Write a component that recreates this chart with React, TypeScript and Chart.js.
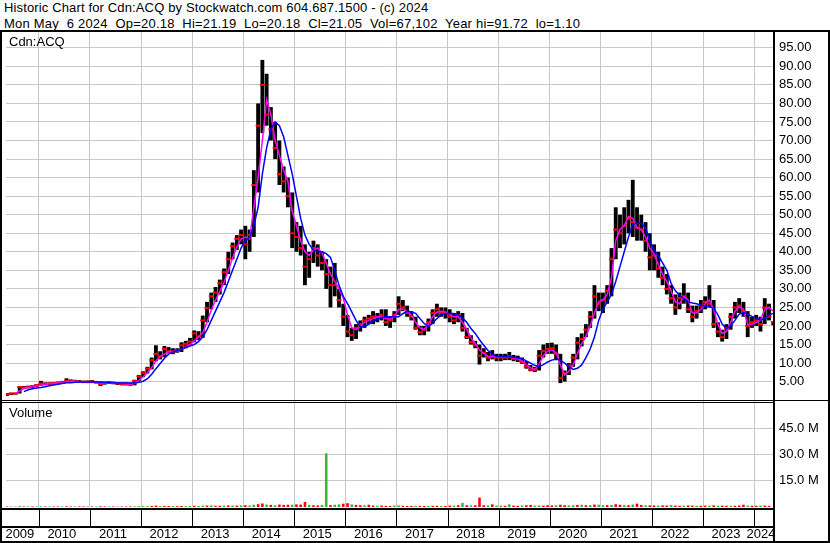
import React, { useEffect, useRef } from "react";
import { Chart, registerables } from "chart.js";

Chart.register(...registerables);

// ---------- data (monthly, May 2009 – May 2024) ----------
const START_YEAR = 2009;
const START_MONTH = 5; // May

const highs = [
  1.9, 2.0, 2.0, 3.8, 3.8, 3.9, 4.0, 4.3,
  5.2, 4.8, 4.8, 4.9, 5.0, 5.2, 5.9, 5.6, 5.5, 5.4, 5.3, 5.3,
  5.4, 5.2, 5.0, 5.0, 5.1, 5.0, 4.9, 4.8, 4.8, 4.7, 5.5, 6.8,
  7.8, 9.0, 11.5, 14.8, 13.2, 14.6, 14.3, 14.0, 14.0, 15.6, 16.0, 16.8,
  18.8, 18.6, 22.8, 26.5, 29.0, 30.5, 32.5, 35.5, 40.0, 42.5, 44.5, 46.0,
  47.0, 46.0, 62.0, 80.0, 91.72, 88.0, 79.0, 75.0, 70.0, 63.0, 60.0, 56.0,
  48, 47, 42, 40, 43, 42, 40, 38, 36, 37, 30, 26,
  23, 19.5, 20.5, 21.5, 22.5, 23, 24, 23.5, 24.5, 24.5, 22.5, 24,
  28, 27, 25.5, 24, 22.5, 20, 20, 22, 24.5, 26, 25, 25,
  24.5, 23.5, 24, 23.5, 19.5, 17.5, 16, 15, 14, 13, 13.5, 12.5,
  12.5, 12.5, 13, 12.2, 12, 11.5, 10.5, 9.5, 9, 13.5, 15, 15.4,
  15.5, 15, 12.5, 8, 10, 12.5, 17, 18, 20.5, 24, 31, 29,
  29, 31, 41, 52, 50, 52, 54, 59.4, 52, 50, 48, 45,
  42, 40, 36, 34, 31, 28.5, 29, 31.5, 29, 25.5, 25.5, 27,
  28, 31, 27, 21, 19, 20.5, 23.5, 26.5, 27.5, 26.5, 24, 22.5,
  23, 22.5, 27.5, 26, 21.19,
];

const lows = [
  1.1, 1.4, 1.5, 1.8, 3.1, 3.2, 3.3, 3.5,
  3.9, 4.0, 4.1, 4.2, 4.3, 4.5, 4.7, 4.8, 4.8, 4.7, 4.6, 4.6,
  4.6, 4.5, 3.8, 4.2, 4.4, 4.3, 4.1, 4.0, 4.0, 3.9, 4.0, 5.0,
  6.2, 7.2, 8.3, 10.5, 11.0, 11.6, 12.6, 12.4, 12.8, 13.0, 14.0, 14.6,
  15.6, 16.2, 16.8, 21.0, 24.5, 26.5, 28.5, 31.0, 34.0, 38.0, 40.5, 42.0,
  38.0, 40.0, 44.0, 56.0, 72.0, 74.0, 70.0, 65.0, 58.0, 56.0, 52.0, 41.0,
  40, 39, 31, 33, 37, 36, 35, 30, 25, 28, 25, 20,
  17, 16, 16.5, 18.5, 19.5, 20.5, 20.5, 21, 21.5, 20, 19.5, 21,
  23, 24, 22.5, 21.5, 19, 17.5, 17.5, 18.5, 20.5, 22.5, 22.5, 22,
  21, 20.5, 21, 18.5, 16.5, 15, 14, 9.6, 11.5, 10.5, 11, 10.5,
  10.5, 10.8, 10.8, 10.5, 10.3, 9.8, 8.5, 7.8, 7.6, 8, 11.5, 12.5,
  12.5, 11, 4.6, 5, 6.8, 9, 11, 14.5, 17, 19.5, 22, 24,
  23.5, 26, 28, 38, 41, 42, 45, 44, 43, 43, 40, 35,
  35, 33, 31, 28.5, 26, 23, 24.5, 26, 23.5, 21, 22, 23.5,
  24.5, 25, 19.5, 17, 15.8, 16.5, 19, 22, 23.5, 22.5, 17, 19.5,
  20, 18.5, 20.5, 21.5, 20.18,
];

const closes = [
  1.5, 1.8, 1.8, 3.5, 3.4, 3.6, 3.8, 4.1,
  4.5, 4.4, 4.5, 4.6, 4.7, 4.9, 5.2, 5.1, 5.0, 5.0, 4.9, 5.0,
  5.0, 4.8, 4.3, 4.7, 4.8, 4.6, 4.5, 4.4, 4.3, 4.2, 5.2, 6.4,
  7.4, 8.5, 10.8, 12.5, 11.8, 13.8, 13.2, 13.0, 13.4, 14.8, 15.2, 15.8,
  18.0, 17.2, 21.5, 24.8, 28.0, 29.0, 31.5, 34.5, 38.0, 41.5, 43.5, 44.5,
  42.0, 44.5, 58.0, 74.0, 85.0, 77.0, 73.0, 68.0, 61.0, 59.0, 55.0, 45.0,
  44, 41, 36, 38, 41, 39, 37, 34, 31, 31, 27, 22.5,
  18.5, 17.5, 19.5, 20.5, 21.5, 22, 22.5, 22.5, 23, 21, 21.5, 23,
  26, 25, 23.5, 22.5, 19.5, 18.3, 19, 21, 23.5, 24.5, 23.5, 23.5,
  22.5, 21.5, 23, 19.5, 17, 15.7, 14.8, 12, 12.8, 11.5, 12, 11.5,
  11.5, 11.5, 11.8, 11.2, 11, 10.3, 9, 8.2, 8.3, 12, 13.2, 13.8,
  14, 12.5, 6, 7.2, 9.3, 11.5, 15.5, 16.5, 19, 22.5, 28, 26,
  27, 29.5, 38, 46, 45, 47, 49, 48, 46.5, 46, 43, 38.5,
  39, 35.5, 33, 30, 27.5, 25, 27.5, 28, 24.5, 22.5, 24, 25.5,
  26.5, 26, 20.5, 18.5, 17, 19.5, 22.5, 25, 25.5, 24, 20, 21,
  21.5, 20.5, 25, 22.5, 21.05,
];

// short moving average (magenta)
const maShort = [
  null, null, 1.8, 2.5, 3.2, 3.4, 3.6, 3.8,
  4.1, 4.3, 4.4, 4.5, 4.6, 4.7, 4.9, 5.1, 5.1, 5.0, 5.0, 4.9,
  4.9, 4.9, 4.7, 4.6, 4.7, 4.7, 4.6, 4.5, 4.4, 4.3, 4.5, 5.3,
  6.3, 7.4, 8.8, 10.6, 11.8, 12.5, 13.0, 13.2, 13.2, 13.7, 14.4, 15.0,
  16.0, 17.0, 18.2, 21.0, 24.3, 27.0, 29.3, 31.8, 35.0, 38.3, 41.3, 43.5,
  44, 43.5, 52, 60, 70, 81, 77, 70, 66, 62, 59, 51,
  47, 43, 40, 39, 40.5, 41, 39.7, 37, 34, 32, 30, 27.5,
  23, 19.5, 19, 20, 21, 21.5, 22, 22.5, 22.5, 22, 21.8, 22.5,
  24.5, 24.5, 24, 23, 21, 19.5, 19, 20.5, 22.5, 23.8, 24, 23.8,
  23, 22.5, 22.5, 21, 19, 16.8, 15.3, 13.5, 12.6, 11.8, 11.7, 11.7,
  11.6, 11.6, 11.6, 11.4, 11.2, 10.6, 9.6, 8.7, 8.2, 9.8, 12, 13.2,
  13.6, 12.8, 9.5, 6.8, 7.8, 9.5, 12.5, 15.2, 17.2, 20, 23.5, 26.5,
  27, 28.5, 33, 43, 46, 47, 49.5, 49, 46.5, 46, 44, 41,
  39.5, 36.5, 34, 32, 29.5, 26.5, 26, 28, 27, 23.5, 23.5, 24.5,
  26, 27, 24.5, 20.5, 18, 18.5, 21, 24, 25.2, 24.5, 20.5, 20.5,
  21, 21.5, 24.5, 25, 24,
];

// long moving average (blue)
const maLong = [
  null, null, null, null, 2.3, 2.8, 3.1, 3.3,
  3.4, 3.6, 3.9, 4.1, 4.3, 4.5, 4.7, 4.7, 4.8, 4.9, 4.9, 4.9,
  5.0, 4.9, 4.9, 4.8, 4.8, 4.7, 4.6, 4.6, 4.6, 4.6, 4.6, 4.8,
  5.1, 5.8, 7.0, 8.5, 9.9, 11.3, 12.4, 13.0, 13.3, 13.7, 14.2, 14.6,
  15.0, 15.8, 17.0, 19.0, 21.5, 24.0, 26.5, 29.0, 32.0, 35.0, 38.0, 41.0,
  43, 44, 47, 52, 61, 68, 73, 75, 74, 71, 66, 61,
  55, 49, 44.5, 42, 40.5, 40, 40, 39.5, 38.5, 35, 31, 28,
  26, 23.8, 21.5, 19.8, 19.8, 20.5, 21.3, 21.8, 22.2, 22.5, 22.5, 22.5,
  22.5, 23.3, 24, 23.8, 23.4, 22, 20.7, 19.8, 20.8, 22, 23, 23.4,
  23.4, 23.4, 23, 22.2, 21, 19.3, 18, 16.3, 14.8, 13.4, 12.4, 11.8,
  11.7, 11.7, 11.7, 11.6, 11.4, 11.2, 10.6, 10, 9.4, 9, 9.6, 10.3,
  10.8, 11, 10.8, 10, 9, 8.3, 8.6, 9.5, 11.5, 13.8, 17, 21.5,
  24.5, 26.5, 28.5, 32, 36, 40, 44, 47.5, 47.7, 47.7, 46.5, 43,
  40.4, 39, 37, 35, 31.5, 29.5, 28.3, 27.3, 26.5, 26.2, 26, 25.6,
  25.3, 25.2, 24.8, 23, 20.5, 19.3, 20, 21.5, 23.2, 23.6, 23.2, 22.6,
  22.2, 21.6, 22, 23, 23.4,
];

// volume in millions
const volumes = [
  0.3, 0.3, 0.2, 0.5, 0.3, 0.3, 0.3, 0.3,
  0.4, 0.3, 0.3, 0.3, 0.3, 0.3, 0.4, 0.3, 0.3, 0.3, 0.3, 0.3,
  0.3, 0.3, 0.4, 0.3, 0.3, 0.3, 0.3, 0.3, 0.3, 0.3, 0.4, 0.5,
  0.5, 0.5, 0.6, 0.8, 0.5, 0.6, 0.5, 0.5, 0.5, 0.6, 0.5, 0.6,
  0.7, 0.6, 0.8, 0.8, 0.9, 0.7, 0.7, 0.8, 0.9, 0.8, 0.8, 0.9,
  1.0, 0.9, 1.3, 1.6, 2.0, 1.4, 1.2, 1.0, 1.4, 1.2, 1.3, 1.3,
  1.5, 1.4, 2.9, 1.2, 1.0, 0.9, 1.2, 30.6, 1.1, 1.3, 1.5, 1.9,
  2.2, 1.5, 1.2, 1.0, 0.9, 1.3, 0.8, 0.7, 0.8, 0.7, 0.6, 0.8,
  0.9, 0.7, 0.6, 0.6, 0.7, 0.6, 0.6, 0.6, 0.7, 0.7, 0.6, 0.6,
  0.8, 0.8, 1.0, 2.3, 1.0, 0.9, 1.0, 5.4, 1.0, 0.9, 1.5, 0.8,
  0.8, 0.7, 1.5, 0.8, 0.7, 0.9, 1.0, 1.2, 0.8, 0.9, 0.8, 1.0,
  0.9, 1.0, 1.3, 1.0, 0.9, 1.0, 1.2, 1.3, 1.0, 1.1, 1.4, 1.3,
  1.0, 1.1, 1.2, 1.6, 1.3, 1.1, 1.0, 1.4, 1.9, 1.2, 1.0, 0.9,
  0.9, 0.8, 0.9, 0.8, 1.1, 0.8, 0.7, 0.8, 0.9, 0.8, 0.7, 0.7,
  0.8, 0.7, 0.9, 0.7, 0.8, 0.7, 0.7, 0.7, 0.8, 1.3, 0.8, 0.7,
  0.7, 0.8, 0.8, 0.7, 0.2,
];

// u = up volume (green), d = down volume (red)
const volumeDirection =
  "dudududu" +
  "ududdudduddu" +
  "duddududdduu" +
  "uudduddudduu" +
  "duududdududu" +
  "duuddududddu" +
  "dddudduuduud" +
  "dudduddudddu" +
  "udddudduddud" +
  "dudududddudu" +
  "ududdudduudd" +
  "dudduudududu" +
  "ududdududdud" +
  "duddudduddud" +
  "dududdudddud" +
  "duddu";

const priceTicks = [5, 10, 15, 20, 25, 30, 35, 40, 45, 50, 55, 60, 65, 70, 75, 80, 85, 90, 95];
const volumeTicks = [15, 30, 45];
const yearStarts = [2010, 2011, 2012, 2013, 2014, 2015, 2016, 2017, 2018, 2019, 2020, 2021, 2022, 2023, 2024];
const yearLabels = ["2009", "2010", "2011", "2012", "2013", "2014", "2015", "2016", "2017", "2018", "2019", "2020", "2021", "2022", "2023", "2024"];

const headerLine1 = "Historic Chart for Cdn:ACQ by Stockwatch.com 604.687.1500 - (c) 2024";
const headerLine2 = "Mon May  6 2024  Op=20.18  Hi=21.19  Lo=20.18  Cl=21.05  Vol=67,102  Year hi=91.72  lo=1.10";
const symbolLabel = "Cdn:ACQ";
const volumeLabel = "Volume";

// ---------- layout ----------
const W = 830;
const H = 543;
const X_MIN = 2009.357;
const X_MAX = 2024.37;
const FONT = "'Liberation Sans', Arial, Helvetica, sans-serif";
const GRID = "#c8c8c8";

const monthX = highs.map((_, i) => START_YEAR + (START_MONTH - 1 + i + 0.5) / 12);

const framePlugin = {
  id: "frame",
  afterDraw(chart: any) {
    const { ctx, chartArea: a, scales } = chart;
    const yP = scales.y;
    const xs = scales.x;
    const cw = chart.width;
    const ch = chart.height;
    ctx.save();
    ctx.fillStyle = "#000";
    const top = Math.round(a.top) - 2;
    const right = Math.round(a.right);
    ctx.fillRect(0, top, cw, 2);
    ctx.fillRect(0, top, 2, ch - top);
    ctx.fillRect(cw - 2, top, 2, ch - top);
    ctx.fillRect(right, top, 2, ch - top);
    const pb = Math.round(yP.bottom);
    ctx.fillRect(0, pb - 1, cw, 1);
    ctx.fillRect(0, pb + 1, right, 1);
    const vb = Math.round(a.bottom);
    ctx.fillRect(0, vb + 1, right, 2);
    yearStarts.forEach((yr) => {
      const px = Math.round(xs.getPixelForValue(yr));
      ctx.fillRect(px, vb + 3, 1, 16);
    });
    ctx.fillRect(0, vb + 19, right, 2);
    ctx.fillRect(0, ch - 2, cw, 2);
    ctx.restore();
  },
};

export default function App() {
  const canvasRef = useRef<HTMLCanvasElement | null>(null);

  useEffect(() => {
    const canvas = canvasRef.current;
    if (!canvas) return;
    Chart.defaults.font.family = FONT;
    Chart.defaults.font.size = 13;
    Chart.defaults.color = "#000";

    const barData = monthX.map((x, i) => ({ x, y: [lows[i], highs[i]] }));
    const closeData = monthX.map((x, i) => ({ x, y: closes[i] }));
    const shortData = monthX.map((x, i) => ({ x, y: maShort[i] }));
    const longData = monthX.map((x, i) => ({ x, y: maLong[i] }));
    const volData = monthX.map((x, i) => ({ x, y: volumes[i] }));
    const volColors = monthX.map((_, i) => (volumeDirection[i] === "u" ? "#3cb43c" : "#ff0000"));

    const chart = new Chart(canvas, {
      type: "bar",
      data: {
        datasets: [
          {
            type: "line",
            data: longData as any,
            borderColor: "#0000ff",
            borderWidth: 1.5,
            pointRadius: 0,
            tension: 0,
            spanGaps: false,
            xAxisID: "x",
            yAxisID: "y",
            order: 1,
          },
          {
            type: "line",
            data: shortData as any,
            borderColor: "#ff00ff",
            borderWidth: 1.5,
            pointRadius: 0,
            tension: 0,
            spanGaps: false,
            xAxisID: "x",
            yAxisID: "y",
            order: 2,
          },
          {
            type: "line",
            data: closeData as any,
            showLine: false,
            pointStyle: "line",
            pointRadius: 2.5,
            pointBorderColor: "#ff0000",
            pointBorderWidth: 2,
            pointBackgroundColor: "#ff0000",
            xAxisID: "x",
            yAxisID: "y",
            order: 3,
          },
          {
            type: "bar",
            data: barData as any,
            backgroundColor: "#000000",
            grouped: false,
            barPercentage: 0.9,
            categoryPercentage: 1,
            xAxisID: "x",
            yAxisID: "y",
            order: 5,
          },
          {
            type: "bar",
            data: volData as any,
            backgroundColor: volColors,
            grouped: false,
            barPercentage: 0.6,
            categoryPercentage: 1,
            xAxisID: "x",
            yAxisID: "yv",
            order: 6,
          },
        ],
      },
      options: {
        responsive: false,
        animation: false,
        events: [],
        layout: { padding: { top: 32, left: 2, right: 0, bottom: 0 } },
        plugins: { legend: { display: false }, tooltip: { enabled: false } },
        scales: {
          x: {
            type: "linear",
            position: "bottom",
            offset: false,
            min: X_MIN,
            max: X_MAX,
            grid: { display: false, drawTicks: false, offset: false },
            border: { display: false },
            ticks: {
              autoSkip: false,
              maxRotation: 0,
              padding: 20,
              font: { size: 13 },
              callback: (v: any) => {
                const idx = Math.floor(Number(v)) - 2009;
                return yearLabels[idx] ?? "";
              },
            },
            afterBuildTicks: (s: any) => {
              s.ticks = yearLabels.map((lab) => {
                const y = Number(lab);
                const lo = Math.max(y, X_MIN);
                const hi = Math.min(y + 1, X_MAX);
                return { value: (lo + hi) / 2 - 0.05 };
              });
            },
            afterFit: (s: any) => {
              s.height = 36;
              s.paddingLeft = 0;
              s.paddingRight = 0;
            },
          },
          xg: {
            type: "linear",
            position: "top",
            offset: false,
            min: X_MIN,
            max: X_MAX,
            grid: { color: GRID, lineWidth: 1, drawTicks: false, offset: false },
            border: { display: false },
            ticks: { display: false },
            afterBuildTicks: (s: any) => {
              s.ticks = yearStarts.map((v) => ({ value: v }));
            },
            afterFit: (s: any) => {
              s.height = 0;
              s.paddingLeft = 0;
              s.paddingRight = 0;
            },
          },
          y: {
            type: "linear",
            position: "right",
            stack: "panels",
            stackWeight: 369,
            min: -0.22,
            max: 99.25,
            grid: { color: GRID, lineWidth: 1, drawTicks: false },
            border: { display: false },
            ticks: {
              autoSkip: false,
              padding: 6,
              font: { size: 13 },
              callback: (v: any) => Number(v).toFixed(2),
            },
            afterBuildTicks: (s: any) => {
              s.ticks = priceTicks.map((v) => ({ value: v }));
            },
            afterFit: (s: any) => {
              s.width = 57;
            },
          },
          yv: {
            type: "linear",
            position: "right",
            stack: "panels",
            stackWeight: 106,
            min: 0,
            max: 60.5,
            grid: { color: GRID, lineWidth: 1, drawTicks: false },
            border: { display: false },
            ticks: {
              autoSkip: false,
              padding: 6,
              font: { size: 13 },
              callback: (v: any) => `${Number(v).toFixed(1)} M`,
            },
            afterBuildTicks: (s: any) => {
              s.ticks = volumeTicks.map((v) => ({ value: v }));
            },
            afterFit: (s: any) => {
              s.width = 57;
            },
          },
        },
      } as any,
      plugins: [framePlugin],
    });

    return () => {
      chart.destroy();
    };
  }, []);

  const textStyle: React.CSSProperties = {
    position: "absolute",
    fontFamily: FONT,
    fontSize: "13px",
    lineHeight: "15px",
    whiteSpace: "pre",
    color: "#000",
    margin: 0,
  };

  return (
    <div
      style={{
        position: "absolute",
        left: 0,
        top: 0,
        width: W,
        height: H,
        background: "#fff",
        overflow: "hidden",
      }}
    >
      <div style={{ ...textStyle, left: 4, top: 0, letterSpacing: "0.14px" }}>{headerLine1}</div>
      <div style={{ ...textStyle, left: 4, top: 15.5, letterSpacing: "0.22px" }}>{headerLine2}</div>
      <canvas
        ref={canvasRef}
        width={W}
        height={H}
        style={{ position: "absolute", left: 0, top: 0, width: W, height: H }}
      />
      <div style={{ ...textStyle, left: 9, top: 34 }}>{symbolLabel}</div>
      <div style={{ ...textStyle, left: 9, top: 405 }}>{volumeLabel}</div>
    </div>
  );
}
